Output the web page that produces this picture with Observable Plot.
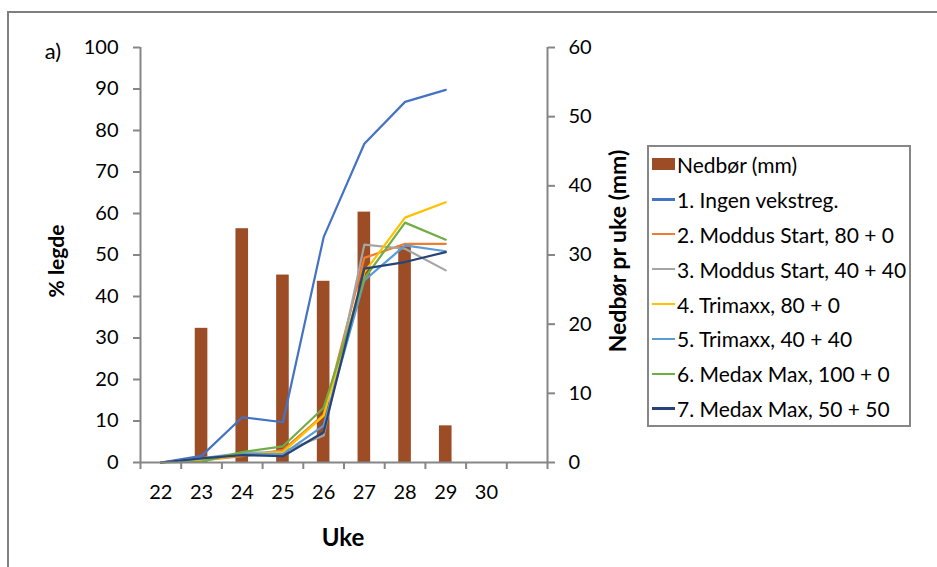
<!DOCTYPE html>
<html>
<head>
<meta charset="utf-8">
<script src="https://cdn.jsdelivr.net/npm/d3@7"></script>
<script src="https://cdn.jsdelivr.net/npm/@observablehq/plot@0.6"></script>
<style>
  html, body { margin: 0; padding: 0; background: #fff; }
  #wrap { position: relative; width: 937px; height: 567px; overflow: hidden; font-family: Lato, "Open Sans", sans-serif; color: #000; }
  #frame { position: absolute; left: 7px; top: 11px; width: 960px; height: 600px; border-left: 2px solid #7f7f7f; border-top: 2px solid #7f7f7f; box-sizing: border-box; }
  .lbl { position: absolute; font-size: 20px; line-height: 1; white-space: nowrap; transform: translate(-50%, -50%); }
  .rot { transform: translate(-50%, -50%) rotate(-90deg); }
  .bold { font-weight: bold; }
  #legend { position: absolute; left: 647px; top: 145px; width: 264px; height: 282px; border: 2px solid #868686; box-sizing: border-box; background: #fff; }
  .row { height: 34.9px; display: flex; align-items: center; font-size: 21px; }
  .sw { width: 23px; margin-left: 3px; margin-right: 2px; flex: none; }
</style>
</head>
<body>
<div id="wrap">
  <div id="frame"></div>
  <div id="chart"></div>
  <div class="lbl" style="left:53px; top:51px; font-size:22px;">a)</div>
  <div class="lbl rot bold" style="left:55px; top:261px; font-size:21px;">% legde</div>
  <div class="lbl rot bold" style="left:617px; top:251px; font-size:23px;">Nedbør pr uke (mm)</div>
  <div class="lbl bold" style="left:343px; top:537px; font-size:24px;">Uke</div>
  <div id="legend"></div>
</div>
<script>
// ---- Data ----
const weeks = [22, 23, 24, 25, 26, 27, 28, 29];
const axisWeeks = [22, 23, 24, 25, 26, 27, 28, 29, 30];
const precipWeeks = [23, 24, 25, 26, 27, 28, 29];
const precipMm = [19.4, 33.8, 27.1, 26.2, 36.2, 31.2, 5.3];

const seriesNames = [
  "1. Ingen vekstreg.",
  "2. Moddus Start, 80 + 0",
  "3. Moddus Start, 40 + 40",
  "4. Trimaxx, 80 + 0",
  "5. Trimaxx, 40 + 40",
  "6. Medax Max, 100 + 0",
  "7. Medax Max, 50 + 50"
];
const s1 = [0, 1.6, 10.9, 9.7, 54.3, 76.8, 86.9, 89.8];
const s2 = [0, 0.5, 1.5, 3.0, 11.5, 49.3, 52.7, 52.7];
const s3 = [0, 1.0, 2.3, 2.5, 6.5, 52.5, 51.5, 46.3];
const s4 = [0, 0.5, 1.8, 2.5, 11.3, 45.8, 59.0, 62.7];
const s5 = [0, 1.0, 2.0, 2.0, 8.9, 43.9, 52.3, 50.9];
const s6 = [0, 0.2, 2.5, 3.9, 13.2, 44.3, 57.8, 53.7];
const s7 = [0, 1.0, 1.8, 1.5, 7.3, 46.7, 48.3, 50.7];
const seriesValues = [s1, s2, s3, s4, s5, s6, s7];

const leftTicks = [0, 10, 20, 30, 40, 50, 60, 70, 80, 90, 100];
const rightTicks = [0, 10, 20, 30, 40, 50, 60];

// ---- Styles ----
const colors = ["#4472C4", "#ED7D31", "#A5A5A5", "#FFC000", "#5B9BD5", "#70AD47", "#264478"];
const barColor = "#9C4D26";
const axisColor = "#868686";
const rightMax = 60, leftMax = 100;
const toLeft = v => v * leftMax / rightMax;

const precipData = precipWeeks.map((w, i) => ({week: w, mm: precipMm[i]}));
const lineData = seriesNames.flatMap((name, si) =>
  weeks.map((w, i) => ({series: name, idx: si, week: w, value: seriesValues[si][i]})));

const boundaries = d3.range(21.5, 31.6, 1);

const lineMarks = seriesNames.map((name, si) =>
  Plot.line(lineData.filter(d => d.idx === si), {
    x: "week", y: "value", stroke: colors[si], strokeWidth: 2.2, strokeLinejoin: "round"
  }));

const chart = Plot.plot({
  width: 937,
  height: 567,
  marginLeft: 140,
  marginRight: 390,
  marginTop: 47,
  marginBottom: 105,
  style: {fontFamily: "Lato, 'Open Sans', sans-serif", fontSize: "20px", color: "#000", background: "transparent", overflow: "visible"},
  x: {type: "linear", domain: [21.5, 31.5], axis: null, label: null},
  y: {domain: [0, leftMax], axis: null, label: null},
  marks: [
    Plot.rectY(precipData, {x1: d => d.week - 0.155, x2: d => d.week + 0.155, y1: 0, y2: d => toLeft(d.mm), fill: barColor}),
    ...lineMarks,
    Plot.ruleX([21.5], {stroke: axisColor, strokeWidth: 2}),
    Plot.ruleX([31.5], {stroke: axisColor, strokeWidth: 2}),
    Plot.ruleY([0], {stroke: axisColor, strokeWidth: 2}),
    Plot.axisY(leftTicks, {anchor: "left", label: null, tickSize: 7, tickPadding: 15, stroke: axisColor, strokeWidth: 2, fill: "#000", tickFormat: d => String(d)}),
    Plot.axisY(rightTicks.map(toLeft), {anchor: "right", label: null, tickSize: 7, tickPadding: 14, stroke: axisColor, strokeWidth: 2, fill: "#000", tickFormat: d => String(Math.round(d * rightMax / leftMax))}),
    Plot.axisX(boundaries, {anchor: "bottom", label: null, tickSize: 7, stroke: axisColor, strokeWidth: 2, tickFormat: () => ""}),
    Plot.axisX(axisWeeks, {anchor: "bottom", label: null, tickSize: 0, tickPadding: 22, fill: "#000", tickFormat: d => String(d)})
  ]
});
document.getElementById("chart").appendChild(chart);

// ---- Legend ----
const legend = document.getElementById("legend");
const items = [{name: "Nedbør (mm)", bar: true, color: barColor}]
  .concat(seriesNames.map((n, i) => ({name: n, bar: false, color: colors[i]})));
items.forEach(it => {
  const row = document.createElement("div");
  row.className = "row";
  const sw = document.createElement("div");
  sw.className = "sw";
  sw.style.height = it.bar ? "12px" : "2.5px";
  sw.style.background = it.color;
  row.appendChild(sw);
  const t = document.createElement("span");
  t.textContent = it.name;
  row.appendChild(t);
  legend.appendChild(row);
});
</script>
</body>
</html>
